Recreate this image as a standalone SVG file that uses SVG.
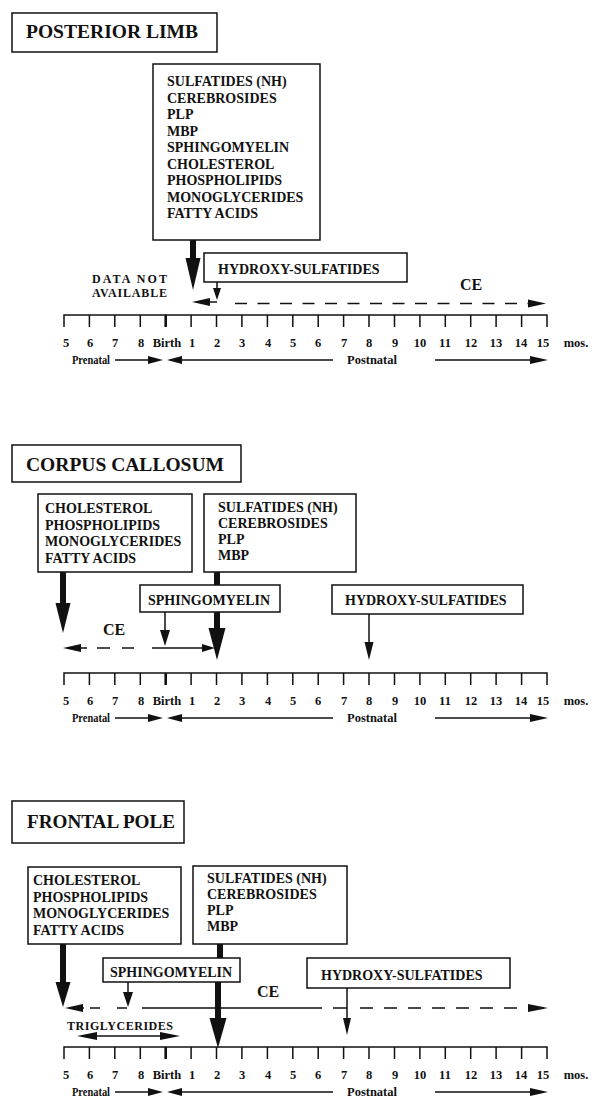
<svg xmlns="http://www.w3.org/2000/svg" width="597" height="1099" viewBox="0 0 597 1099">
<style>
text{font-family:"Liberation Serif","Times New Roman",serif;font-weight:bold;fill:#111}
.title{font-size:19px}
.lbl{font-size:14px}
.ce{font-size:16px}
.small{font-size:12px}
.tk{font-size:12.5px;text-anchor:middle}
.box{fill:#fff;stroke:#111;stroke-width:1.5}
.ln{stroke:#111;stroke-width:1.5;fill:none}
.thick{stroke:#111;stroke-width:6;fill:none}
.bt{stroke:#111;stroke-width:2.6;fill:none}
.head{fill:#111}
</style>
<defs>
<g id="axis">
<path class="ln" d="M64 12V0H547V12M89.4 0v12M114.8 0v12M140.3 0v12M191.1 0v12M216.5 0v12M241.9 0v12M267.4 0v12M292.8 0v12M318.2 0v12M343.6 0v12M369 0v12M394.5 0v12M419.9 0v12M445.3 0v12M470.7 0v12M496.1 0v12M521.6 0v12"/>
<path class="bt" d="M165.7 0v12"/>
<g class="tk">
<text x="66" y="32">5</text><text x="90" y="32">6</text><text x="115" y="32">7</text><text x="141" y="32">8</text><text x="167" y="32">Birth</text>
<text x="192" y="32">1</text><text x="217" y="32">2</text><text x="242" y="32">3</text><text x="268" y="32">4</text><text x="293" y="32">5</text>
<text x="318" y="32">6</text><text x="344" y="32">7</text><text x="369" y="32">8</text><text x="395" y="32">9</text><text x="420" y="32">10</text>
<text x="445" y="32">11</text><text x="471" y="32">12</text><text x="496" y="32">13</text><text x="521" y="32">14</text><text x="543" y="32">15</text>
</g>
<text class="tk" x="576" y="32">mos.</text>
<text class="small" x="72" y="49" textLength="38" lengthAdjust="spacingAndGlyphs">Prenatal</text>
<path class="ln" d="M115 45H150"/>
<polygon class="head" points="148,41 163,45 148,49"/>
<polygon class="head" points="182,41 167,45 182,49"/>
<path class="ln" d="M180 45H333"/>
<text class="small" x="347" y="49" textLength="50" lengthAdjust="spacingAndGlyphs">Postnatal</text>
<path class="ln" d="M435 45H532"/>
<polygon class="head" points="530,41 548,45 530,49"/>
</g>
</defs>

<!-- Panel 1: POSTERIOR LIMB -->
<g id="title-posterior-limb">
<rect class="box" x="12" y="13" width="205" height="39"/>
<text class="title" x="26" y="38" textLength="172" lengthAdjust="spacingAndGlyphs">POSTERIOR LIMB</text>
</g>
<g id="pl-main-box">
<rect class="box" x="153" y="64" width="167" height="176"/>
<g class="lbl">
<text x="167" y="86">SULFATIDES (NH)</text>
<text x="167" y="102.5">CEREBROSIDES</text>
<text x="167" y="119">PLP</text>
<text x="167" y="135.5">MBP</text>
<text x="167" y="152">SPHINGOMYELIN</text>
<text x="167" y="168.5">CHOLESTEROL</text>
<text x="167" y="185">PHOSPHOLIPIDS</text>
<text x="167" y="201.5">MONOGLYCERIDES</text>
<text x="167" y="218">FATTY ACIDS</text>
</g>
</g>
<g id="pl-hydroxy">
<rect class="box" x="204" y="253" width="203" height="29"/>
<text class="lbl" x="218" y="274">HYDROXY-SULFATIDES</text>
</g>
<g id="pl-labels">
<text class="small" x="92" y="283" textLength="75" lengthAdjust="spacing">DATA NOT</text>
<text class="small" x="92" y="297" textLength="75" lengthAdjust="spacing">AVAILABLE</text>
<text class="ce" x="460" y="290">CE</text>
</g>
<g id="pl-axis"><use href="#axis" y="315"/></g>
<g id="pl-connectors">
<path class="thick" d="M193 240V260"/>
<polygon class="head" points="185.5,258 200.5,258 193,290"/>
<path class="ln" d="M217 282V290"/>
<polygon class="head" points="213,288 221,288 217,300"/>
<path class="ln" d="M208 302H217"/>
<polygon class="head" points="210,298 192,302 210,306"/>
<path class="ln" d="M235 303.5H528" stroke-dasharray="12 10.5"/>
<polygon class="head" points="528,299.5 546,303.5 528,307.5"/>
</g>

<!-- Panel 2: CORPUS CALLOSUM -->
<g id="title-corpus-callosum">
<rect class="box" x="12" y="445" width="229" height="37"/>
<text class="title" x="26" y="471" textLength="198" lengthAdjust="spacingAndGlyphs">CORPUS CALLOSUM</text>
</g>
<g id="cc-left-box">
<rect class="box" x="38" y="494" width="154" height="78"/>
<g class="lbl">
<text x="45" y="513">CHOLESTEROL</text>
<text x="45" y="529.5">PHOSPHOLIPIDS</text>
<text x="45" y="546">MONOGLYCERIDES</text>
<text x="45" y="562.5">FATTY ACIDS</text>
</g>
</g>
<g id="cc-right-box">
<rect class="box" x="204" y="494" width="152" height="78"/>
<g class="lbl">
<text x="218" y="512">SULFATIDES (NH)</text>
<text x="218" y="528">CEREBROSIDES</text>
<text x="218" y="544">PLP</text>
<text x="218" y="560">MBP</text>
</g>
</g>
<g id="cc-sphingomyelin">
<rect class="box" x="140" y="585" width="140" height="27"/>
<text class="lbl" x="148" y="605">SPHINGOMYELIN</text>
</g>
<g id="cc-hydroxy">
<rect class="box" x="332" y="585" width="191" height="29"/>
<text class="lbl" x="345" y="605">HYDROXY-SULFATIDES</text>
</g>
<g id="cc-labels"><text class="ce" x="103" y="635">CE</text></g>
<g id="cc-axis"><use href="#axis" y="673"/></g>
<g id="cc-connectors">
<path class="thick" d="M63 572V605"/>
<polygon class="head" points="55.5,603 70.5,603 63,633"/>
<path class="thick" d="M217 572V585"/>
<path class="thick" d="M217 612V630"/>
<polygon class="head" points="208.5,628 225.5,628 217,660"/>
<path class="ln" d="M165 612V632"/>
<polygon class="head" points="160,630 170,630 165,646"/>
<path class="ln" d="M369 614V644"/>
<polygon class="head" points="364.5,642 373.5,642 369,660"/>
<polygon class="head" points="81,644 63,648 81,652"/>
<path class="ln" d="M80 648H87M97 648H110M122 648H134M152 648H205"/>
<polygon class="head" points="202,644 215,648 202,652"/>
</g>

<!-- Panel 3: FRONTAL POLE -->
<g id="title-frontal-pole">
<rect class="box" x="12" y="801" width="172" height="42"/>
<text class="title" x="27" y="828" textLength="148" lengthAdjust="spacingAndGlyphs">FRONTAL POLE</text>
</g>
<g id="fp-left-box">
<rect class="box" x="28" y="867" width="153" height="77"/>
<g class="lbl">
<text x="33" y="885">CHOLESTEROL</text>
<text x="33" y="901.5">PHOSPHOLIPIDS</text>
<text x="33" y="918">MONOGLYCERIDES</text>
<text x="33" y="934.5">FATTY ACIDS</text>
</g>
</g>
<g id="fp-right-box">
<rect class="box" x="193" y="866" width="154" height="78"/>
<g class="lbl">
<text x="207" y="883">SULFATIDES (NH)</text>
<text x="207" y="899">CEREBROSIDES</text>
<text x="207" y="915">PLP</text>
<text x="207" y="931">MBP</text>
</g>
</g>
<g id="fp-sphingomyelin">
<rect class="box" x="103" y="958" width="137" height="24"/>
<text class="lbl" x="110" y="977">SPHINGOMYELIN</text>
</g>
<g id="fp-hydroxy">
<rect class="box" x="307" y="958" width="203" height="30"/>
<text class="lbl" x="321" y="980">HYDROXY-SULFATIDES</text>
</g>
<g id="fp-labels">
<text class="ce" x="257" y="997">CE</text>
<text class="small" x="67" y="1030" textLength="106" lengthAdjust="spacing">TRIGLYCERIDES</text>
</g>
<g id="fp-axis"><use href="#axis" y="1047"/></g>
<g id="fp-connectors">
<path class="thick" d="M63 944V984"/>
<polygon class="head" points="55.5,982 70.5,982 63,1007"/>
<path class="thick" d="M220 944V958"/>
<path class="thick" d="M218 982V1020"/>
<polygon class="head" points="209.5,1018 226.5,1018 218,1048"/>
<path class="ln" d="M128 982V994"/>
<polygon class="head" points="123,992 133,992 128,1007"/>
<path class="ln" d="M347 988V1020"/>
<polygon class="head" points="343,1018 351,1018 347,1035"/>
<polygon class="head" points="83,1004 65,1008 83,1012"/>
<path class="ln" d="M82 1008H84M90 1008H100M117 1008H127M142 1008H322M333 1008H347"/>
<path class="ln" d="M360 1008H528" stroke-dasharray="13 11"/>
<polygon class="head" points="528,1004 548,1008 528,1012"/>
<path class="ln" d="M95 1036H162"/>
<polygon class="head" points="97,1032 77,1036 97,1040"/>
<polygon class="head" points="160,1032 180,1036 160,1040"/>
</g>
</svg>
